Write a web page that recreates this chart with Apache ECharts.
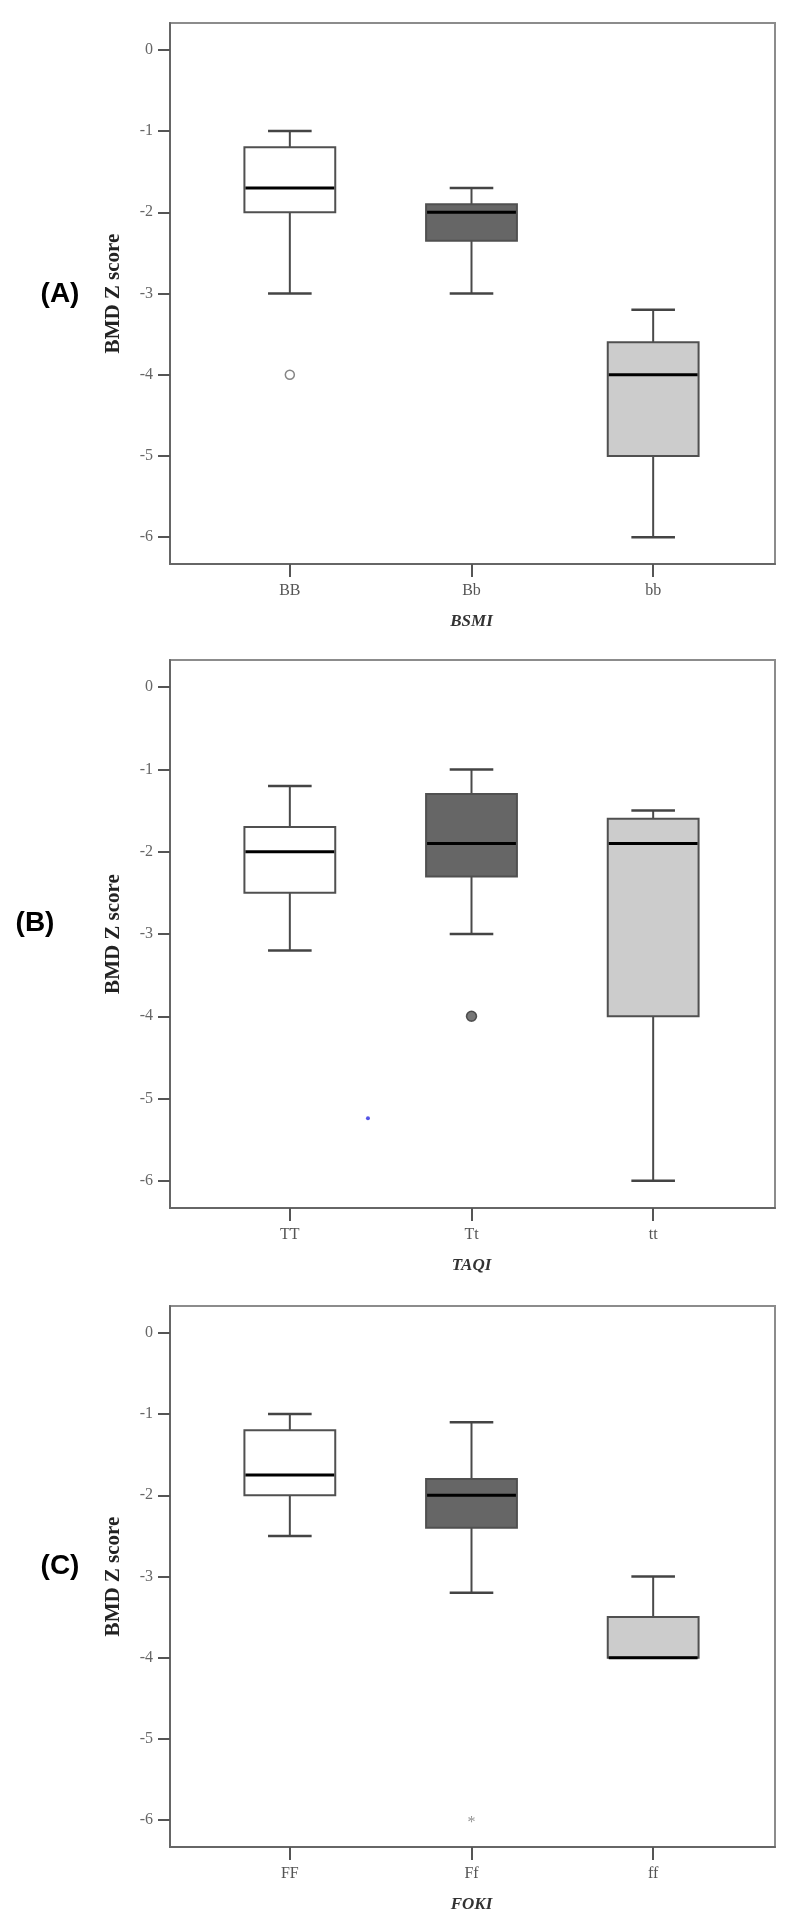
<!DOCTYPE html>
<html>
<head>
<meta charset="utf-8">
<script src="https://cdn.jsdelivr.net/npm/echarts@6/dist/echarts.min.js"></script>
<style>
html,body{margin:0;padding:0;background:#fff;}
#chart{width:799px;height:1930px;}
</style>
</head>
<body>
<div id="chart"></div>
<script>
// ---------- data ----------
const catsA = ['BB', 'Bb', 'bb'];
const catsB = ['TT', 'Tt', 'tt'];
const catsC = ['FF', 'Ff', 'ff'];
const geneNames = ['BSMI', 'TAQI', 'FOKI'];
const panelLabels = ['(A)', '(B)', '(C)'];
const yTickValues = [0, -1, -2, -3, -4, -5, -6];
// [lower whisker, Q1, median, Q3, upper whisker]
const boxA = [[-3.0, -2.0, -1.7, -1.2, -1.0], [-3.0, -2.35, -2.0, -1.9, -1.7], [-6.0, -5.0, -4.0, -3.6, -3.2]];
const boxB = [[-3.2, -2.5, -2.0, -1.7, -1.2], [-3.0, -2.3, -1.9, -1.3, -1.0], [-6.0, -4.0, -1.9, -1.6, -1.5]];
const boxC = [[-2.5, -2.0, -1.75, -1.2, -1.0], [-3.2, -2.4, -2.0, -1.8, -1.1], [-4.0, -4.0, -4.0, -3.5, -3.0]];
const boxFills = ['#ffffff', '#666666', '#cccccc'];
// outliers [category index, value]
const outCircleA = [[0, -4.0]];
const outFilledB = [[1, -4.0]];
const strayDotB = [[0.43, -5.24]];
const outStarC = [[1, -6.0]];

// ---------- layout ----------
const yMin = -6.33, yMax = 0.33;
const panels = [
  {cats: catsA, box: boxA, top: 23, height: 541, labelX: 60, labelY: 294},
  {cats: catsB, box: boxB, top: 660, height: 548, labelX: 35, labelY: 923},
  {cats: catsC, box: boxC, top: 1306, height: 541, labelX: 60, labelY: 1566}
];
const SERIF = '"Liberation Serif", "Times New Roman", serif';
const SANS = '"Liberation Sans", Arial, sans-serif';

function renderBox(params, api) {
  const x = api.value(0);
  const lo = api.coord([x, api.value(1)]);
  const q1 = api.coord([x, api.value(2)]);
  const med = api.coord([x, api.value(3)]);
  const q3 = api.coord([x, api.value(4)]);
  const hi = api.coord([x, api.value(5)]);
  const band = api.size([1, 0])[0];
  const bw = band * 0.5, cw = band * 0.24;
  const cx = lo[0];
  const fill = boxFills[params.dataIndex];
  const ln = {stroke: '#4a4a4a', lineWidth: 2};
  const children = [];
  if (Math.abs(hi[1] - q3[1]) > 0.5) {
    children.push({type: 'line', shape: {x1: cx, y1: q3[1], x2: cx, y2: hi[1]}, style: ln});
    children.push({type: 'line', shape: {x1: cx - cw / 2, y1: hi[1], x2: cx + cw / 2, y2: hi[1]}, style: {stroke: '#444', lineWidth: 2.5}});
  }
  if (Math.abs(lo[1] - q1[1]) > 0.5) {
    children.push({type: 'line', shape: {x1: cx, y1: q1[1], x2: cx, y2: lo[1]}, style: ln});
    children.push({type: 'line', shape: {x1: cx - cw / 2, y1: lo[1], x2: cx + cw / 2, y2: lo[1]}, style: {stroke: '#444', lineWidth: 2.5}});
  }
  children.push({type: 'rect', shape: {x: cx - bw / 2, y: q3[1], width: bw, height: q1[1] - q3[1]},
    style: {fill: fill, stroke: '#505050', lineWidth: 2}});
  children.push({type: 'line', shape: {x1: cx - bw / 2 + 1, y1: med[1], x2: cx + bw / 2 - 1, y2: med[1]},
    style: {stroke: '#000', lineWidth: 3}});
  return {type: 'group', children: children};
}

const grids = [], xAxes = [], yAxes = [], series = [], graphics = [];
panels.forEach((p, i) => {
  // frame grid
  grids.push({left: 170, width: 605, top: p.top, height: p.height, show: true,
    borderColor: '#8c8c8c', borderWidth: 2, backgroundColor: 'transparent'});
  // data grid (category centres)
  grids.push({left: 199, width: 545, top: p.top, height: p.height});
  const gF = 2 * i, gD = 2 * i + 1;
  xAxes.push({type: 'value', gridIndex: gF, min: 0, max: 1, position: 'bottom',
    axisLine: {show: true, onZero: false, lineStyle: {color: '#666', width: 2}},
    axisTick: {show: false}, axisLabel: {show: false}, splitLine: {show: false}});
  const xC = xAxes.length;
  xAxes.push({type: 'category', gridIndex: gD, data: p.cats, boundaryGap: true, position: 'bottom',
    axisLine: {show: false, onZero: false},
    axisTick: {show: true, alignWithLabel: true, length: 13, lineStyle: {color: '#555', width: 2}},
    axisLabel: {margin: 19, fontFamily: SERIF, fontSize: 16, color: '#555'},
    name: geneNames[i], nameLocation: 'middle', nameGap: 49,
    nameTextStyle: {fontFamily: SERIF, fontSize: 17, fontWeight: 'bold', fontStyle: 'italic', color: '#333'},
    splitLine: {show: false}});
  xAxes.push({type: 'value', gridIndex: gD, min: -0.5, max: 2.5, show: false,
    axisLine: {onZero: false}, splitLine: {show: false}});
  yAxes.push({type: 'value', gridIndex: gF, min: yMin, max: yMax,
    axisLine: {show: true, onZero: false, lineStyle: {color: '#666', width: 2}},
    axisTick: {show: true, customValues: yTickValues, length: 12, lineStyle: {color: '#555', width: 2}},
    axisLabel: {customValues: yTickValues, margin: 17, fontFamily: SERIF, fontSize: 16, color: '#666'},
    splitLine: {show: false},
    name: 'BMD Z score', nameLocation: 'middle', nameGap: 46,
    nameTextStyle: {fontFamily: SERIF, fontSize: 21, fontWeight: 'bold', color: '#222'}});
  const yD = yAxes.length;
  yAxes.push({type: 'value', gridIndex: gD, min: yMin, max: yMax, show: false,
    axisLine: {onZero: false}, splitLine: {show: false}});

  series.push({type: 'custom', xAxisIndex: xC, yAxisIndex: yD, renderItem: renderBox,
    data: p.box.map((d, k) => [k].concat(d)), silent: true, z: 3});

  graphics.push({type: 'text', x: p.labelX, y: p.labelY,
    style: {text: panelLabels[i], fontFamily: SANS, fontSize: 28, fontWeight: 'bold', fill: '#000',
      align: 'center', verticalAlign: 'middle'}});
});

// outliers
series.push({type: 'scatter', xAxisIndex: 1, yAxisIndex: 1, data: outCircleA, symbol: 'circle', symbolSize: 9,
  itemStyle: {color: '#ffffff', borderColor: '#666', borderWidth: 1.5}, z: 5});
series.push({type: 'scatter', xAxisIndex: 4, yAxisIndex: 3, data: outFilledB, symbol: 'circle', symbolSize: 10,
  itemStyle: {color: '#555', borderColor: '#333', borderWidth: 1.5}, z: 5});
series.push({type: 'scatter', xAxisIndex: 5, yAxisIndex: 3, data: strayDotB, symbol: 'circle', symbolSize: 4,
  itemStyle: {color: '#2a2ae0'}, z: 5});
series.push({type: 'scatter', xAxisIndex: 7, yAxisIndex: 5, data: outStarC, symbol: 'circle', symbolSize: 1,
  itemStyle: {color: 'rgba(0,0,0,0)'},
  label: {show: true, position: 'inside', formatter: '*', fontFamily: SERIF, fontSize: 16, color: '#777', offset: [0, 3]}, z: 5});

const chart = echarts.init(document.getElementById('chart'), null, {renderer: 'canvas'});
chart.setOption({
  animation: false,
  backgroundColor: '#ffffff',
  grid: grids,
  xAxis: xAxes,
  yAxis: yAxes,
  series: series,
  graphic: graphics
});
</script>
</body>
</html>
